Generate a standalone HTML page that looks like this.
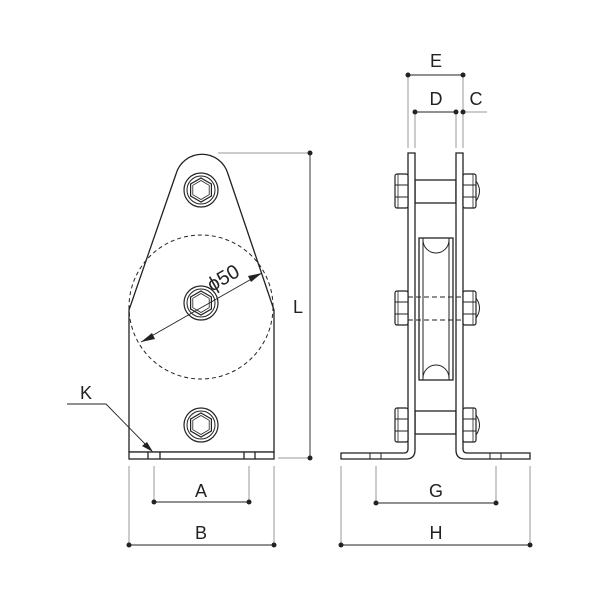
<!DOCTYPE html>
<html><head><meta charset="utf-8"><style>html,body{margin:0;padding:0;background:#fff}svg{display:block}</style></head>
<body>
<svg width="600" height="600" viewBox="0 0 600 600" xmlns="http://www.w3.org/2000/svg" font-family="Liberation Sans, sans-serif">
<defs>
<g id="bolt"><circle r="17" fill="#fff" stroke="#222" stroke-width="1.2"/><circle r="14" fill="none" stroke="#222" stroke-width="1"/><polygon points="0,-12 10.4,-6 10.4,6 0,12 -10.4,6 -10.4,-6" fill="none" stroke="#222" stroke-width="1.2"/><polygon points="0,-9.5 8.2,-4.7 8.2,4.7 0,9.5 -8.2,4.7 -8.2,-4.7" fill="none" stroke="#222" stroke-width="0.8"/></g>
<g id="nutL"><rect x="395" y="-17" width="13" height="34" rx="2" fill="#fff" stroke="#222" stroke-width="1.2"/><line x1="395" y1="-6" x2="408" y2="-6" stroke="#222"/><line x1="395" y1="6" x2="408" y2="6" stroke="#222"/><line x1="398" y1="-17" x2="398" y2="17" stroke="#222" stroke-width="0.8"/></g>
<g id="nutR"><path d="M476,-10 Q483,0 476,10" fill="none" stroke="#222" stroke-width="1"/><rect x="463" y="-17" width="13" height="34" rx="2" fill="#fff" stroke="#222" stroke-width="1.2"/><line x1="463" y1="-6" x2="476" y2="-6" stroke="#222"/><line x1="463" y1="6" x2="476" y2="6" stroke="#222"/><line x1="473" y1="-17" x2="473" y2="17" stroke="#222" stroke-width="0.8"/></g>
</defs>
<g stroke="#222" fill="none" stroke-width="1.3">
<path d="M129,452 L129,310 L176,174 A27,27 0 0 1 228,174 L274,310 L274,452 Z" fill="#fff"/>
<circle cx="201" cy="307" r="72" stroke-dasharray="4,3" stroke-width="1"/>
<rect x="129" y="452" width="145" height="7" fill="#fff"/>
<line x1="148" y1="452" x2="148" y2="459"/><line x1="160" y1="452" x2="160" y2="459"/>
<line x1="244" y1="452" x2="244" y2="459"/><line x1="255" y1="452" x2="255" y2="459"/>
</g>
<use href="#bolt" x="201" y="190"/>
<use href="#bolt" x="201" y="303"/>
<use href="#bolt" x="201" y="425"/>
<line x1="141" y1="342" x2="262" y2="273" stroke="#222" stroke-width="0.9"/>
<polygon points="141,342 152,333 155,339" fill="#222"/>
<polygon points="262,273 248,276 251,282" fill="#222"/>
<text x="212" y="292" font-size="20" fill="#222" transform="rotate(-30 212 292)">ϕ50</text>
<text x="80" y="399" font-size="18" fill="#222">K</text>
<polyline points="67,404 106,404 151,450" fill="none" stroke="#222" stroke-width="0.9"/>
<polygon points="153,452 142,446 147,442" fill="#222"/>
<g stroke="#999" stroke-width="1">
<line x1="218" y1="153" x2="310" y2="153"/><line x1="278" y1="458" x2="310" y2="458"/>
<line x1="129" y1="466" x2="129" y2="546"/><line x1="274" y1="466" x2="274" y2="546"/>
<line x1="154" y1="466" x2="154" y2="502"/><line x1="249" y1="466" x2="249" y2="502"/>
<line x1="341" y1="466" x2="341" y2="546"/><line x1="530" y1="466" x2="530" y2="546"/>
<line x1="376" y1="466" x2="376" y2="503"/><line x1="496" y1="466" x2="496" y2="503"/>
<line x1="408" y1="75" x2="408" y2="148"/><line x1="463" y1="75" x2="463" y2="148"/>
<line x1="415" y1="112" x2="415" y2="148"/><line x1="456" y1="112" x2="456" y2="148"/>
<line x1="463" y1="112" x2="487" y2="112"/>
</g>
<g stroke="#222" stroke-width="0.9">
<line x1="310" y1="153" x2="310" y2="458"/>
<line x1="154" y1="502" x2="249" y2="502"/><line x1="129" y1="545" x2="274" y2="545"/>
<line x1="376" y1="503" x2="496" y2="503"/><line x1="341" y1="545" x2="530" y2="545"/>
<line x1="408" y1="75" x2="463" y2="75"/><line x1="415" y1="112" x2="456" y2="112"/>
</g>
<g fill="#222">
<circle cx="310" cy="153" r="2.5"/><circle cx="310" cy="458" r="2.5"/>
<circle cx="154" cy="502" r="2.5"/><circle cx="249" cy="502" r="2.5"/>
<circle cx="129" cy="545" r="2.5"/><circle cx="274" cy="545" r="2.5"/>
<circle cx="376" cy="503" r="2.5"/><circle cx="496" cy="503" r="2.5"/>
<circle cx="341" cy="545" r="2.5"/><circle cx="530" cy="545" r="2.5"/>
<circle cx="408" cy="75" r="2.5"/><circle cx="463" cy="75" r="2.5"/>
<circle cx="415" cy="112" r="2.5"/><circle cx="456" cy="112" r="2.5"/><circle cx="463" cy="112" r="2.5"/>
</g>
<g font-size="18" fill="#222" text-anchor="middle">
<text x="298" y="313">L</text>
<text x="201" y="497">A</text><text x="201" y="539">B</text>
<text x="436" y="497">G</text><text x="436" y="539">H</text>
<text x="436" y="67">E</text><text x="436" y="105">D</text><text x="476" y="105">C</text>
</g>
<g stroke="#222" fill="#fff" stroke-width="1.3">
<rect x="415" y="180" width="41" height="23"/>
<rect x="415" y="411" width="41" height="23"/>
<rect x="419" y="238" width="34" height="142"/>
<line x1="423" y1="238" x2="423" y2="380" stroke-width="1"/><line x1="449" y1="238" x2="449" y2="380" stroke-width="1"/>
<path d="M423,240 A13,13 0 0 0 449,240" fill="none" stroke-width="1"/>
<path d="M423,378 A13,13 0 0 1 449,378" fill="none" stroke-width="1"/>
<path d="M341,453 L404,453 Q408,453 408,449 L408,153 L415,153 L415,450 Q415,459 406,459 L341,459 Z"/>
<path d="M530,453 L467,453 Q463,453 463,449 L463,153 L456,153 L456,450 Q456,459 465,459 L530,459 Z"/>
<line x1="370" y1="453" x2="370" y2="459" stroke-width="1"/><line x1="381" y1="453" x2="381" y2="459" stroke-width="1"/>
<line x1="490" y1="453" x2="490" y2="459" stroke-width="1"/><line x1="501" y1="453" x2="501" y2="459" stroke-width="1"/>
</g>
<g stroke="#222" stroke-width="1" stroke-dasharray="5,3"><line x1="408" y1="297" x2="463" y2="297"/><line x1="408" y1="320" x2="463" y2="320"/></g>
<use href="#nutL" y="191"/><use href="#nutR" y="191"/>
<use href="#nutL" y="308"/><use href="#nutR" y="308"/>
<use href="#nutL" y="425"/><use href="#nutR" y="425"/>
</svg>
</body></html>
